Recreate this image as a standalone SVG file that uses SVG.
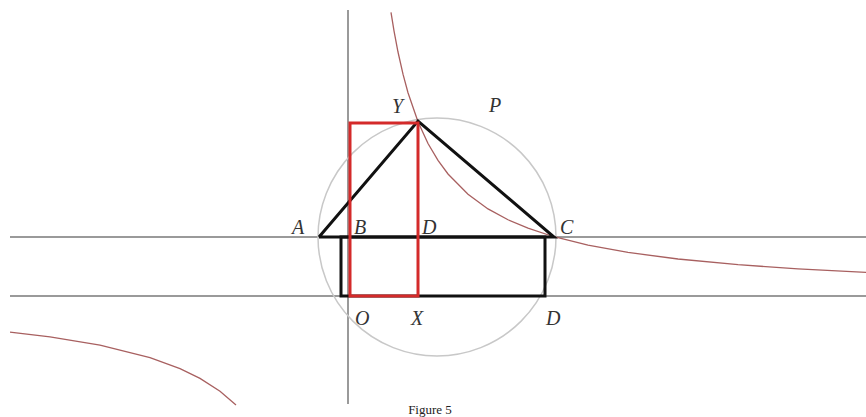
<svg xmlns="http://www.w3.org/2000/svg" width="866" height="417" viewBox="0 0 866 417">
<style>
.axis{stroke:#9a9a9a;stroke-width:2;fill:none}
.hyp{stroke:#a86060;stroke-width:1.3;fill:none}
.circ{stroke:#c8c8c8;stroke-width:1.5;fill:none}
.blk{stroke:#111;stroke-width:3;fill:none;stroke-linejoin:miter}
.red{stroke:#d42a2a;stroke-width:3;fill:none}
.lbl{font-family:"Liberation Serif","DejaVu Serif",serif;font-style:italic;font-size:20px;fill:#333}
.cap{font-family:"Liberation Serif","DejaVu Serif",serif;font-size:13px;fill:#222}
</style>
<rect width="866" height="417" fill="#fff"/>
<g id="axes">
<line class="axis" x1="348" y1="10" x2="348" y2="404"/>
<line class="axis" x1="10" y1="237" x2="866" y2="237"/>
<line class="axis" x1="10" y1="296" x2="866" y2="296"/>
</g>
<g id="circle">
<circle class="circ" cx="437" cy="237" r="119"/>
</g>
<g id="hyperbola">
<polyline class="hyp" points="391,12.3 394,30.8 398,52 403,74.2 408,92.7 418,121.7 428,143.5 438,160.4 448,174 468,194.3 488,208.9 508,219.75 528,228.2 553,236.5 588,245.2 628,252.4 678,259 738,264.7 798,268.9 866,272.45"/>
<polyline class="hyp" points="10,332.1 50,336.9 100,345.2 150,357.6 180,368.6 200,378.4 220,391.3 236,404.9"/>
</g>
<g id="rect-black">
<rect class="blk" x="341" y="237" width="204" height="59"/>
</g>
<g id="triangle">
<polyline class="blk" points="319,237 418,121 554,237 319,237"/>
</g>
<g id="rect-red">
<rect class="red" x="350" y="123" width="68" height="173"/>
</g>
<g id="labels">
<text class="lbl" x="392" y="113">Y</text>
<text class="lbl" x="489" y="112">P</text>
<text class="lbl" x="292" y="234">A</text>
<text class="lbl" x="354" y="234">B</text>
<text class="lbl" x="422" y="234">D</text>
<text class="lbl" x="560" y="234">C</text>
<text class="lbl" x="355" y="325">O</text>
<text class="lbl" x="411" y="325">X</text>
<text class="lbl" x="546" y="325">D</text>
</g>
<text class="cap" x="430" y="414" text-anchor="middle">Figure 5</text>
</svg>
